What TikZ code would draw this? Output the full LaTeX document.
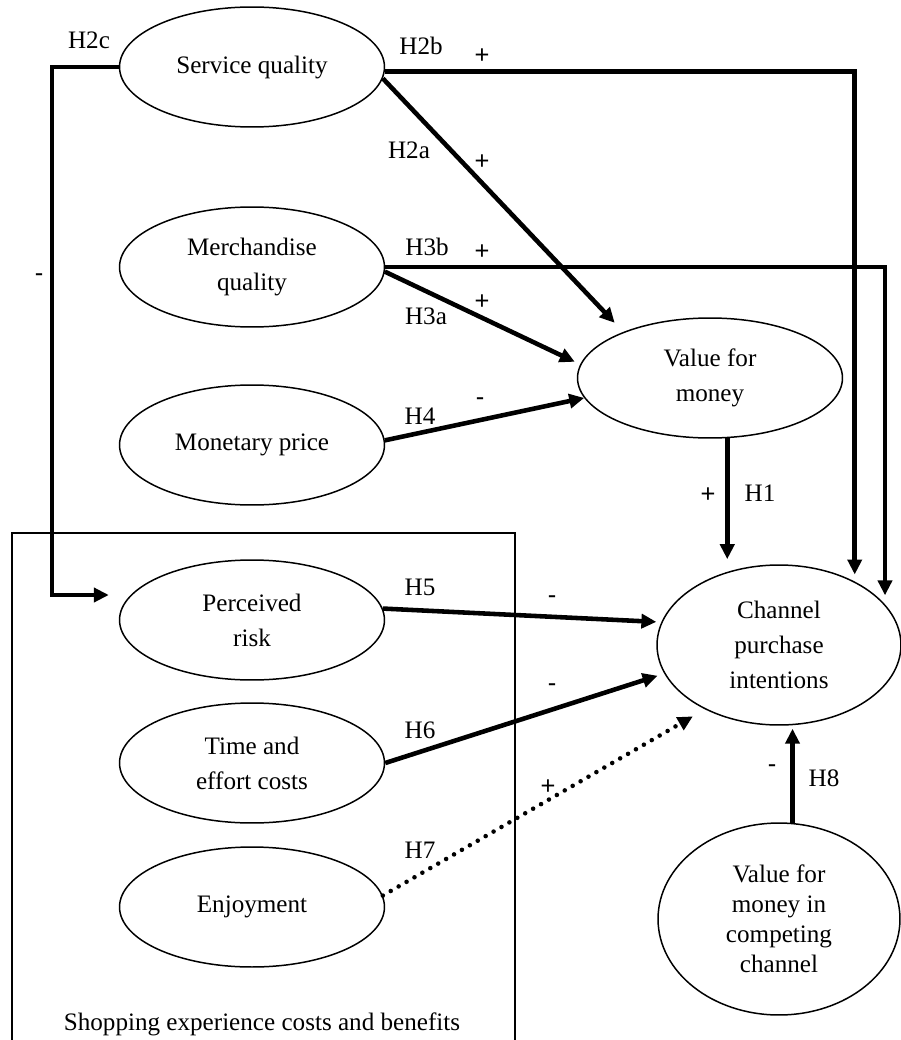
\documentclass[tikz,border=0pt]{standalone}
\usepackage{fontspec}
\setmainfont{Liberation Serif}
\newfontfamily\signfont{Liberation Sans}
\usetikzlibrary{arrows.meta,shapes.geometric}

\tikzset{
  cons/.style={ellipse,draw=black,line width=0.85pt,minimum width=5.3cm,minimum height=2.4cm,align=center,inner sep=0pt},
  hyp/.style={line width=2.6pt,-{Triangle[length=8.5pt,width=8pt]}},
  dots/.style={dash pattern=on 0pt off 5.2pt,line cap=round},
  lab/.style={inner sep=0pt},
  sgn/.style={inner sep=0pt,font=\signfont\fontsize{14.5}{16}\selectfont}
}

\begin{document}
\begin{tikzpicture}[x=0.02cm,y=-0.02cm,font=\fontsize{14.3}{20}\selectfont]
\useasboundingbox (0,0) rectangle (901,1040);
  \draw[line width=0.6pt] (12,1040) -- (12,533) -- (515,533) -- (515,1040);
  \node[lab] (shop) at (262,1024) {Shopping experience costs and benefits};

  \node[cons] (sq) at (252,67) {Service quality};
  \node[cons] (mq) at (252,267) {Merchandise\\quality};
  \node[cons] (mp) at (252,445) {Monetary price};
   \node[cons] (vm) at (710,378) {Value for\\money};
  \node[cons] (pr) at (252,620) {Perceived\\risk};
  \node[cons] (te) at (252,763) {Time and\\effort costs};
  \node[cons] (en) at (252,907) {Enjoyment};
   \node[cons,minimum width=4.88cm,minimum height=3.2cm] (cpi) at (779,645) {Channel\\purchase\\intentions};
   \node[cons,minimum width=4.84cm,minimum height=3.84cm,font=\fontsize{14.3}{17}\selectfont] (vc) at (779,919) {Value for\\money in\\competing\\channel};

  \coordinate (bend) at (52,595);
   \draw[hyp,shorten >=2mm] (sq.west) -| (bend) -- (bend -| pr.west);
   \draw[hyp,shorten >=1.4mm] (sq.-2) -| (cpi.40);
   \draw[hyp,shorten >=1.8mm] (mq.east) -| (cpi.21);
   \draw[hyp,shorten >=2.5mm] (sq.-5) -- (vm.152);
   \draw[hyp,shorten >=1.2mm] (mq.-2) -- (vm.174);
   \draw[hyp] (mp.2) -- (vm.189);
   \draw[hyp,shorten >=2.6mm] (vm.-74) -- (vm.-74 |- cpi.126);
   \draw[hyp,shorten >=1mm] (pr.5) -- (cpi.169);
   \draw[hyp,shorten >=1.4mm] (te.east) -- (cpi.194);
   \draw[hyp,dots,shorten >=2.8mm] (en.5) -- (cpi.221);
   \draw[hyp,shorten >=0.6mm] (vc.82) -- (vc.82 |- cpi.south);

  \node[lab] (h2c) at (89,40) {H2c};
  \node[lab] (h2b) at (421,46) {H2b};
  \node[lab] (h2a) at (409,150) {H2a};
  \node[lab] (h3b) at (427,247) {H3b};
  \node[lab] (h3a) at (426,316) {H3a};
  \node[lab] (h4) at (420,416) {H4};
  \node[lab] (h1) at (760,493) {H1};
  \node[lab] (h5) at (420,587) {H5};
  \node[lab] (h6) at (420,730) {H6};
  \node[lab] (h7) at (420,850) {H7};
  \node[lab] (h8) at (824,778) {H8};

  \node[sgn] (s2c) at (39,278) {-};
  \node[sgn] (s2b) at (482,56) {+};
  \node[sgn] (s2a) at (482,162) {+};
  \node[sgn] (s3b) at (482,252) {+};
  \node[sgn] (s3a) at (482,302) {+};
  \node[sgn] (s4) at (480,402) {-};
  \node[sgn] (s1) at (708,495) {+};
  \node[sgn] (s5) at (552,600) {-};
  \node[sgn] (s6) at (552,688) {-};
  \node[sgn] (s7) at (548,787) {+};
  \node[sgn] (s8) at (772,769) {-};
\end{tikzpicture}
\end{document}
